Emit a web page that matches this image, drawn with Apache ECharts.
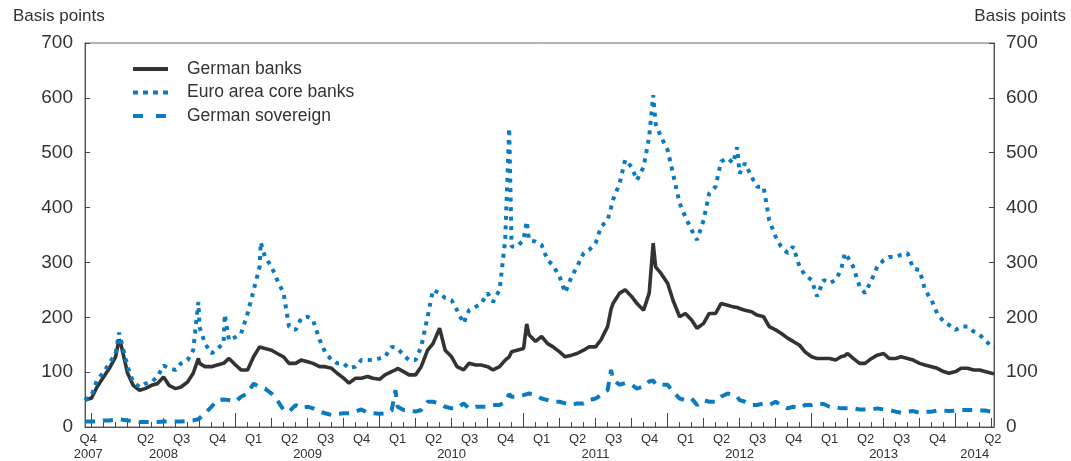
<!DOCTYPE html>
<html>
<head>
<meta charset="utf-8">
<script src="https://cdn.jsdelivr.net/npm/echarts@6/dist/echarts.min.js"></script>
<style>
  html, body { margin: 0; padding: 0; background: #ffffff; }
  #chart { width: 1071px; height: 461px; }
</style>
</head>
<body>
<div id="chart"></div>
<script>
// CDS premia, basis points (semi-monthly observations plus notable spike dates)
const dates = [
  '2007-12-15',
  '2008-01-01','2008-01-15','2008-02-01','2008-02-15','2008-03-01','2008-03-10','2008-03-15','2008-04-01','2008-04-15',
  '2008-05-01','2008-05-15','2008-06-01','2008-06-15','2008-07-01','2008-07-15','2008-08-01','2008-08-15','2008-09-01',
  '2008-09-15','2008-09-28','2008-10-01','2008-10-15','2008-11-01','2008-11-15','2008-12-01','2008-12-04','2008-12-15',
  '2009-01-01','2009-01-15','2009-02-01','2009-02-15','2009-03-01','2009-03-04','2009-03-15','2009-04-01','2009-04-15',
  '2009-05-01','2009-05-15','2009-06-01','2009-06-15','2009-07-01','2009-07-15','2009-08-01','2009-08-15','2009-09-01',
  '2009-09-15','2009-10-01','2009-10-15','2009-11-01','2009-11-15','2009-12-01','2009-12-15',
  '2010-01-01','2010-01-15','2010-02-01','2010-02-10','2010-02-15','2010-03-01','2010-03-15','2010-04-01','2010-04-15',
  '2010-05-01','2010-05-15','2010-06-01','2010-06-15','2010-07-01','2010-07-15','2010-08-01','2010-08-15','2010-09-01',
  '2010-09-15','2010-10-01','2010-10-15','2010-11-01','2010-11-15','2010-11-25','2010-12-01','2010-12-15',
  '2011-01-01','2011-01-09','2011-01-15','2011-02-01','2011-02-15','2011-03-01','2011-03-15','2011-04-01','2011-04-15',
  '2011-05-01','2011-05-15','2011-06-01','2011-06-15','2011-07-01','2011-07-15','2011-08-01','2011-08-10','2011-08-15',
  '2011-09-01','2011-09-15','2011-10-01','2011-10-15','2011-11-01','2011-11-15','2011-11-25','2011-12-01','2011-12-15',
  '2012-01-01','2012-01-15','2012-02-01','2012-02-15','2012-03-01','2012-03-15','2012-04-01','2012-04-15','2012-05-01',
  '2012-05-15','2012-06-01','2012-06-15','2012-06-25','2012-07-01','2012-07-15','2012-08-01','2012-08-15','2012-09-01',
  '2012-09-15','2012-10-01','2012-10-15','2012-11-01','2012-11-15','2012-12-01','2012-12-15',
  '2013-01-01','2013-01-15','2013-02-01','2013-02-15','2013-03-01','2013-03-15','2013-03-25','2013-04-01','2013-04-15',
  '2013-05-01','2013-05-15','2013-06-01','2013-06-15','2013-07-01','2013-07-15','2013-08-01','2013-08-15','2013-09-01',
  '2013-09-15','2013-10-01','2013-10-15','2013-11-01','2013-11-15','2013-12-01','2013-12-15',
  '2014-01-01','2014-01-15','2014-02-01','2014-02-15','2014-03-01','2014-03-15','2014-04-01','2014-04-07'
];

const germanBanks = [
  49,
  53,73,91,107,128,160,150,98,76, 67,70,76,79,91,76,70,73,82, 98,125,116,110,110,113,116,118,125,
  113,104,104,128,146,146,143,140,134, 128,116,116,122,119,116,110,110,107, 98,89,80,89,89,92,89,
  87,95,101,104,107,101,95,95,110, 140,152,180,140,128,110,104,116,113, 113,110,104,110,122,128,137,140,
  143,188,168,156,165,152,146,137,128, 131,134,140,146,146,159,183,215,225, 244,250,238,225,213,244,335,292,280,
  262,231,201,207,195,180,189,207,207, 225,222,219,218,216,213,210,204,201, 183,177,171,162,156,149,137,
  128,125,125,125,122,128,130,134,125, 116,116,125,131,134,125,125,128,125, 122,116,113,110,107,101,98,
  101,107,107,104,104,101,98,97
];

const euroCoreBanks = [
  49,
  58,85,100,116,134,172,158,110,82, 73,79,82,91,112,107,104,116,122, 140,228,182,152,134,143,152,205,158,
  164,170,207,249,292,337,310,292,268, 244,183,177,198,201,195,159,137,122, 116,116,107,110,122,122,122,
  125,128,146,145,143,131,122,122,146, 201,250,244,235,231,213,189,213,219, 225,244,228,250,341,545,329,329,
  341,375,341,338,332,304,295,274,245, 274,292,317,323,335,365,377,400,414, 444,487,474,450,474,529,605,553,529,
  505,462,408,383,359,341,377,426,438, 484,490,481,510,462,481,456,438,438, 377,347,329,317,329,292,277,
  268,238,268,262,268,286,317,310,292, 256,244,268,292,304,310,310,314,317, 289,286,250,231,207,192,186,
  177,183,183,174,168,159,146,146
];

const germanSovereign = [
  10,
  10,10,12,12,13,14,13,12,11, 9,9,9,9,10,10,10,10,11, 12,14,16,25,37,49,50,50,49,
  46,55,61,79,73,75,70,61,49, 31,28,40,34,37,34,28,25,22, 24,25,25,28,32,26,25,
  24,25,30,67,37,31,31,28,31, 46,46,43,37,34,34,43,34,37, 37,37,40,40,46,60,55,55,
  58,60,61,58,52,49,46,46,43, 40,43,43,49,52,58,67,104,86, 77,80,77,70,74,83,85,77,77,
  77,64,52,49,52,40,49,46,46, 55,61,58,55,49,46,40,40,43, 40,46,40,34,37,34,40,
  40,43,42,37,36,34,34,34,34, 32,32,32,34,32,31,28,26,28, 29,26,28,28,30,30,29,
  30,31,31,31,30,30,28,30
];

// Quarter labels shown under the time axis, and the year captions beneath them
const quarterLabels = [
  [2007, 4], [2008, 2], [2008, 3], [2008, 4],
  [2009, 1], [2009, 2], [2009, 3], [2009, 4],
  [2010, 1], [2010, 2], [2010, 3], [2010, 4],
  [2011, 1], [2011, 2], [2011, 3], [2011, 4],
  [2012, 1], [2012, 2], [2012, 3], [2012, 4],
  [2013, 1], [2013, 2], [2013, 3], [2013, 4],
  [2014, 2]
];
const yearLabels = [2007, 2008, 2009, 2010, 2011, 2012, 2013, 2014];

const seriesNames = ['German banks', 'Euro area core banks', 'German sovereign'];
const BLUE = '#0b7bc1';
const DARK = '#333333';
const FONT = '"Liberation Sans", Arial, Helvetica, sans-serif';

// line styles shared by the series and the key
const styles = [
  { color: DARK, width: 3.6, dash: null },
  { color: BLUE, width: 4, dash: [4, 5.5] },
  { color: BLUE, width: 4, dash: [10, 8] }
];
const keyDash = [null, [5, 5], [10, 13]];

// x is measured in months since January 2007
function monthIndex(s) {
  const [y, m, d] = s.split('-').map(Number);
  const dim = new Date(y, m, 0).getDate();
  return (y - 2007) * 12 + (m - 1) + (d - 1) / dim;
}
const X_MIN = monthIndex(dates[0]);                 // mid-December 2007
const X_MAX = monthIndex(dates[dates.length - 1]);  // early April 2014

function pairs(values) {
  return dates.map((d, i) => [monthIndex(d), values[i]]);
}

// centre of the visible part of a period [a, b)
function visibleCentre(a, b) {
  const lo = Math.max(a, X_MIN), hi = Math.min(b, X_MAX);
  return (lo + hi) / 2;
}
const key = v => Number(v).toFixed(3);

const quarterText = new Map();
const quarterPos = quarterLabels.map(([y, q]) => {
  const start = (y - 2007) * 12 + (q - 1) * 3;
  const p = visibleCentre(start, start + 3);
  quarterText.set(key(p), 'Q' + q);
  return p;
});
const yearText = new Map();
const yearPos = yearLabels.map(y => {
  const start = (y - 2007) * 12;
  const p = visibleCentre(start, start + 12);
  yearText.set(key(p), String(y));
  return p;
});

const monthTicks = [], quarterTicks = [], yearTicks = [];
for (let m = Math.ceil(X_MIN); m <= X_MAX; m++) {
  if (m % 12 === 0) yearTicks.push(m);
  else if (m % 3 === 0) quarterTicks.push(m);
  else monthTicks.push(m);
}

function timeAxis(ticks, tickLen, labelOpt, showLine) {
  return {
    type: 'value', gridIndex: 0, position: 'bottom', min: X_MIN, max: X_MAX,
    axisLine: { show: showLine, onZero: false, lineStyle: { color: '#555', width: 1 } },
    axisTick: { show: true, inside: true, length: tickLen, customValues: ticks,
                lineStyle: { color: '#444', width: 1 } },
    axisLabel: labelOpt,
    splitLine: { show: false }
  };
}

function valueAxis(position) {
  return {
    type: 'value', position: position, min: 0, max: 700, interval: 100,
    axisLine: { show: true, lineStyle: { color: '#555', width: 1 } },
    axisTick: { show: true, inside: true, length: 5, lineStyle: { color: '#444' } },
    axisLabel: { fontSize: 19, color: DARK, fontFamily: FONT, margin: 12 },
    splitLine: { show: false }
  };
}

// key drawn as plain graphics: sample line + name per row
const keyRows = [];
seriesNames.forEach((name, i) => {
  const y = 69 + i * 23.5;
  keyRows.push({
    type: 'line', shape: { x1: 133, y1: y, x2: 168, y2: y },
    style: { stroke: styles[i].color, lineWidth: 4, lineDash: keyDash[i], lineCap: 'butt' }
  });
  keyRows.push({
    type: 'text', x: 187, y: y,
    style: { text: name, fontSize: 17.5, fill: DARK, fontFamily: FONT, verticalAlign: 'middle' }
  });
});

const chart = echarts.init(document.getElementById('chart'), null, { renderer: 'canvas' });
chart.setOption({
  animation: false,
  backgroundColor: '#ffffff',
  textStyle: { fontFamily: FONT },
  grid: { left: 85, right: 77, top: 43, bottom: 34, show: true,
          borderColor: '#666', borderWidth: 1, containLabel: false },
  graphic: [
    { type: 'text', left: 13, top: 8, style: { text: 'Basis points', fontSize: 17, fill: DARK, fontFamily: FONT } },
    { type: 'text', right: 5, top: 8, style: { text: 'Basis points', fontSize: 17, fill: DARK, fontFamily: FONT } }
  ].concat(keyRows),
  xAxis: [
    timeAxis(monthTicks, 5, {
      show: true, customValues: quarterPos, margin: 6, fontSize: 13, color: DARK, fontFamily: FONT,
      formatter: v => quarterText.get(key(v)) || ''
    }, true),
    timeAxis(quarterTicks, 9, { show: false }, false),
    timeAxis(yearTicks, 14, {
      show: true, customValues: yearPos, margin: 21, fontSize: 13, color: DARK, fontFamily: FONT,
      formatter: v => yearText.get(key(v)) || ''
    }, false)
  ],
  yAxis: [valueAxis('left'), valueAxis('right')],
  series: seriesNames.map((name, i) => ({
    name: name, type: 'line', xAxisIndex: 0, yAxisIndex: 0,
    data: pairs([germanBanks, euroCoreBanks, germanSovereign][i]),
    symbol: 'none', z: i === 0 ? 2 : 3,
    lineStyle: { color: styles[i].color, width: styles[i].width,
                 type: styles[i].dash || 'solid', cap: 'butt' },
    itemStyle: { color: styles[i].color }
  }))
});
</script>
</body>
</html>
